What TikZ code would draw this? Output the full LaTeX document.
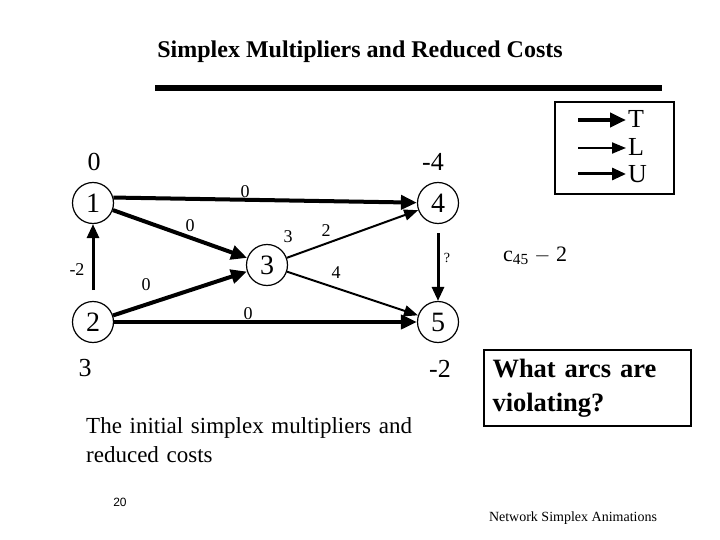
\documentclass[tikz,border=0pt]{standalone}
\usepackage{fontspec}
\setmainfont{Liberation Serif}
\newfontfamily\arialfont{Liberation Sans}
\usetikzlibrary{arrows.meta}
\begin{document}
\begin{tikzpicture}[x=1pt,y=-1pt,
  vtx/.style={circle,draw,line width=1.2pt,minimum size=41pt,inner sep=0pt,font=\fontsize{28}{28}\selectfont},
  num/.style={font=\fontsize{26}{26}\selectfont,inner sep=0pt},
  alab/.style={font=\fontsize{18}{18}\selectfont,inner sep=0pt},
  tarc/.style={line width=4pt,-{Triangle[length=16pt,width=14pt]}},
  larc/.style={line width=2pt,-{Triangle[length=14pt,width=11pt]}},
  uarc/.style={line width=3pt,-{Triangle[length=14pt,width=12pt]}}]
\useasboundingbox (0,0) rectangle (720,540);
\node[font=\bfseries\fontsize{24}{24}\selectfont] (title) at (360,52) {Simplex Multipliers and Reduced Costs};
\draw[line width=6pt] (155,88) -- (662,88);
% nodes
\node[vtx] (n1) at (93,203) {1};
\node[vtx] (n4) at (438,203) {4};
\node[vtx] (n3) at (267,265) {3};
\node[vtx] (n2) at (93,322) {2};
\node[vtx] (n5) at (438,322) {5};
% potentials
\node[num] (p1) at (94,162) {0};
\node[num] (p4) at (433,162) {-4};
\node[num] (p2) at (85,368) {3};
\node[num] (p5) at (440,369) {-2};
% arcs
\draw[tarc] (n1.15) -- (n4);
\draw[tarc] (n1) -- (n3);
\draw[tarc] (n2) -- (n3);
\draw[tarc] (n2) -- (n5);
\coordinate (s21) at (93,290);
\draw[uarc] (s21) -- (n1);
\draw[larc] (n3) -- (n4);
\draw[larc] (n3) -- (n5);
\coordinate (s45) at (438,233);
\draw[uarc] (s45) -- (n5);
% arc labels
\node[alab] (l14) at (245,192) {0};
\node[alab] (l13) at (190,226) {0};
\node[alab] (l3) at (288,237) {3};
\node[alab] (l34) at (326,231) {2};
\node[alab] (l23) at (146,285) {0};
\node[alab] (l35) at (336,273) {4};
\node[alab] (l25) at (248,314) {0};
\node[alab] (l21) at (77,270) {-2};
\node[font=\fontsize{14}{14}\selectfont,inner sep=0pt] (l45) at (447,258) {?};
% legend
\draw[line width=2pt] (555,102) rectangle (674,194);
\coordinate (ta) at (578,120); \coordinate (tb) at (626,120);
\coordinate (la) at (578,148); \coordinate (lb) at (626,148);
\coordinate (ua) at (578,174); \coordinate (ub) at (626,174);
\draw[tarc] (ta) -- (tb);
\draw[larc] (la) -- (lb);
\draw[uarc] (ua) -- (ub);
\node[num,anchor=west] (tT) at (628,119) {T};
\node[num,anchor=west] (tL) at (628,147) {L};
\node[num,anchor=west] (tU) at (628,174) {U};
% reduced cost
\node[font=\fontsize{22}{22}\selectfont,anchor=west,inner sep=0pt] (c45) at (503,256) {c$_{\mathrm{45}}$ $-$ 2};
% question box
\node[draw,line width=2.5pt,align=left,font=\bfseries\fontsize{26.5}{34}\selectfont,inner xsep=8pt,inner ysep=4pt,minimum width=207pt,minimum height=76pt,text width=190pt] (q) at (587.5,388) {What arcs are\\violating?};
% caption
\node[align=left,anchor=base west,font=\fontsize{23}{29}\selectfont,inner sep=0pt,text width=340pt] (cap) at (86,433) {The initial simplex multipliers and\\reduced costs};
\node[font=\arialfont\fontsize{12}{12}\selectfont] (pg) at (120,502) {20};
\node[font=\fontsize{14}{14}\selectfont] (ft) at (573,518) {Network Simplex Animations};
\end{tikzpicture}
\end{document}
